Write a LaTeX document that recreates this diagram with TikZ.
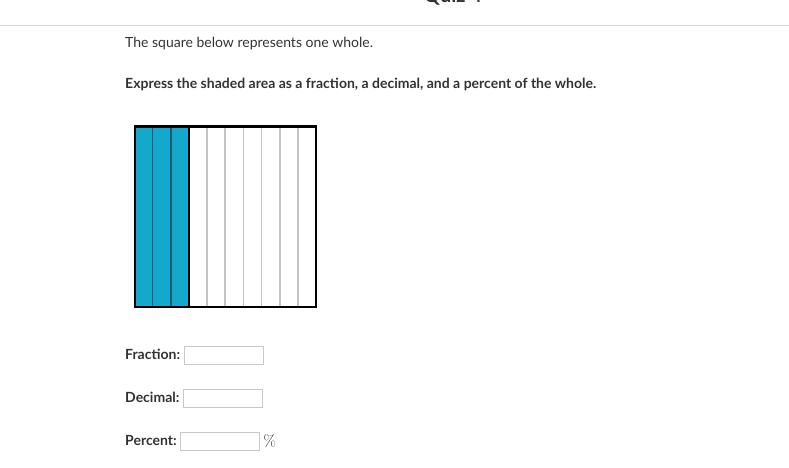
\documentclass[tikz,border=0pt]{standalone}
\usepackage{fontspec}
\setmainfont{Lato}
\newfontfamily\lmfont{Latin Modern Roman}
\definecolor{txt}{HTML}{333333}
\definecolor{qblue}{HTML}{14A8CC}
\definecolor{sdiv}{HTML}{23586A}
\definecolor{gdiv}{HTML}{C4C4C4}
\definecolor{rulec}{HTML}{D8D8D8}
\definecolor{boxline}{HTML}{C8C8C8}
\begin{document}
\begin{tikzpicture}[x=1pt,y=-1pt,
  body/.style={anchor=base west,inner sep=0pt,text=txt,font=\fontsize{14}{16}\selectfont},
  lbl/.style={body,font=\fontsize{14}{16}\selectfont\bfseries},
  inbox/.style={draw=boxline,line width=0.8pt,fill=white,minimum width=79pt,minimum height=18pt,inner sep=0pt,anchor=west}]
\useasboundingbox (0,0) rectangle (789,468);
\clip (0,0) rectangle (789,468);
\fill[white] (0,0) rectangle (789,468);
% title (cut off at top)
\node[anchor=base,inner sep=0pt,text=txt,font=\fontsize{20}{24}\selectfont\bfseries] (title) at (453,3) {Quiz 4};
\coordinate (rl) at (0,25.5);
\coordinate (rr) at (789,25.5);
\draw[rulec,line width=1pt] (rl) -- (rr);
% texts
\node[body] (t1) at (125,47.5) {The square below represents one whole.};
\node[lbl] (t2) at (125,88.5) {Express the shaded area as a fraction, a decimal, and a percent of the whole.};
% square
\coordinate (sq0) at (134.5,126.5);
\coordinate (sq1) at (316,307);
\fill[qblue] (134.5,126.5) rectangle (188.5,307);
\foreach \i in {1,2} {
  \draw[sdiv,line width=1.6pt] ({134.5+\i*18.15},126.5) -- ({134.5+\i*18.15},307);
}
\foreach \i in {4,...,9} {
  \draw[gdiv,line width=1.6pt] ({134.5+\i*18.15},126.5) -- ({134.5+\i*18.15},307);
}
\draw[black,line width=1.6pt] (188.95,126.5) -- (188.95,307);
\draw[black,line width=2pt] (sq0) rectangle (sq1);
% answer fields
\node[lbl] (fl) at (125,359.5) {Fraction:};
\node[inbox] (fb) at (184,355) {};
\node[lbl] (dl) at (125,402.5) {Decimal:};
\node[inbox] (db) at (183,398) {};
\node[lbl] (pl) at (125,445.5) {Percent:};
\node[inbox] (pb) at (180,441) {};
\node[anchor=base west,inner sep=0pt,text=txt,font=\lmfont\fontsize{16}{18}\selectfont] (pc) at (263.5,446) {\%};
\end{tikzpicture}
\end{document}
